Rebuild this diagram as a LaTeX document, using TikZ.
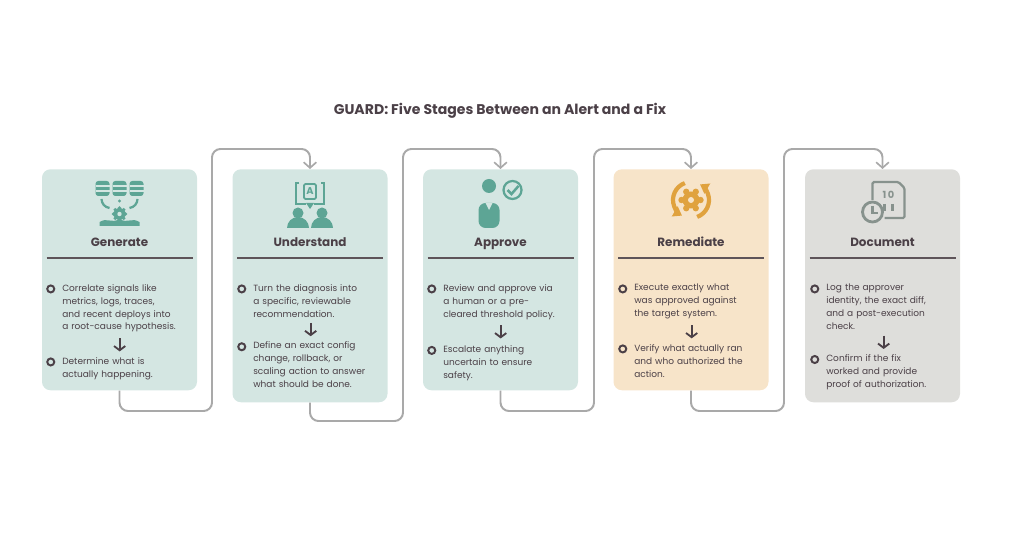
\documentclass[tikz,border=0pt]{standalone}
\usepackage{fontspec}
\setmainfont{Poppins}
\usetikzlibrary{positioning,arrows.meta}
\definecolor{gdtext}{HTML}{4B4047}
\definecolor{gdrule}{HTML}{5E5459}
\definecolor{gdteal}{HTML}{D4E6E2}
\definecolor{gdpeach}{HTML}{F7E4C9}
\definecolor{gdgray}{HTML}{DEDEDB}
\definecolor{gdicon}{HTML}{5DA595}
\definecolor{gdorange}{HTML}{E0A23E}
\definecolor{gdslate}{HTML}{87928D}
\definecolor{gdflow}{HTML}{A9A9A9}
\newcommand{\gdnohyph}{\hyphenpenalty10000\exhyphenpenalty10000\relax}

\tikzset{
  card/.style={rectangle, rounded corners=6pt, minimum width=155*0.025cm, anchor=north, inner sep=0pt},
  head/.style={font=\fontsize{8.5}{10}\selectfont\bfseries, text=gdtext, anchor=base},
  item/.style={font=\fontsize{6.4}{9.2}\selectfont\gdnohyph, text=gdtext, text width=3.2cm, align=left, anchor=north west, inner sep=0pt},
  ring/.style={circle, draw=gdtext, line width=1.4pt, minimum size=5pt, inner sep=0pt},
  down/.style={minimum height=9pt, minimum width=8pt, inner sep=0pt},
  tip/.style={draw=gdtext, line width=1.3pt, -{Straight Barb[length=3pt,width=8pt,line width=1.3pt]}},
  flow/.style={draw=gdflow, line width=1.4pt, rounded corners=6pt, -{Straight Barb[length=4pt,width=9pt,line width=1.2pt]}},
}

\begin{document}
\begin{tikzpicture}[x=0.025cm, y=-0.025cm]
\useasboundingbox (0,0) rectangle (1024,536);

\node[font=\fontsize{10}{12}\selectfont\bfseries, text=gdtext] (title) at (500,111) {GUARD: Five Stages Between an Alert and a Fix};

% cards
\node[card, fill=gdteal,  minimum height=221*0.025cm] (gen) at (119.5,169) {};
\node[card, fill=gdteal,  minimum height=233*0.025cm] (und) at (310,169) {};
\node[card, fill=gdteal,  minimum height=221*0.025cm] (app) at (500.5,169) {};
\node[card, fill=gdpeach, minimum height=221*0.025cm] (rem) at (691,169) {};
\node[card, fill=gdgray,  minimum height=233*0.025cm] (doc) at (882.5,169) {};

% headings and rules
\node[head] (hgen) at (119.5,247) {Generate};
\node[head] (hund) at (310,247) {Understand};
\node[head] (happ) at (500.5,247) {Approve};
\node[head] (hrem) at (691,247) {Remediate};
\node[head] (hdoc) at (882.5,247) {Document};
\foreach \c in {119.5,310,500.5,691,882.5}
  \draw[gdrule, line width=1.6pt] (\c-73,258) -- (\c+73,258);

% Generate
\node[item] (g1) at (62,284) {Correlate signals like\\ metrics, logs, traces,\\ and recent deploys into\\ a root-cause hypothesis.};
\node[down, below=4pt of g1.south west, xshift=41pt] (ga) {};
\node[item, below=4pt of ga.south, anchor=north west, xshift=-41pt] (g2) {Determine what is\\ actually happening.};
\node[ring] (gb1) at ([xshift=-8pt,yshift=-3.5pt]g1.north west) {};
\node[ring] (gb2) at ([xshift=-8pt,yshift=-3.5pt]g2.north west) {};

% Understand
\node[item] (u1) at (253,284) {Turn the diagnosis into\\ a specific, reviewable\\ recommendation.};
\node[down, below=4pt of u1.south west, xshift=41pt] (ua) {};
\node[item, below=4pt of ua.south, anchor=north west, xshift=-41pt] (u2) {Define an exact config\\ change, rollback, or\\ scaling action to answer\\ what should be done.};
\node[ring] (ub1) at ([xshift=-8pt,yshift=-3.5pt]u1.north west) {};
\node[ring] (ub2) at ([xshift=-8pt,yshift=-3.5pt]u2.north west) {};

% Approve
\node[item] (a1) at (443,284) {Review and approve via\\ a human or a pre-\\ cleared threshold policy.};
\node[down, below=4pt of a1.south west, xshift=41pt] (aa) {};
\node[item, below=5pt of aa.south, anchor=north west, xshift=-41pt] (a2) {Escalate anything\\ uncertain to ensure\\ safety.};
\node[ring] (ab1) at ([xshift=-8pt,yshift=-3.5pt]a1.north west) {};
\node[ring] (ab2) at ([xshift=-8pt,yshift=-3.5pt]a2.north west) {};

% Remediate
\node[item] (r1) at (634,284) {Execute exactly what\\ was approved against\\ the target system.};
\node[down, below=4pt of r1.south west, xshift=41pt] (ra) {};
\node[item, below=4pt of ra.south, anchor=north west, xshift=-41pt] (r2) {Verify what actually ran\\ and who authorized the\\ action.};
\node[ring] (rb1) at ([xshift=-8pt,yshift=-3.5pt]r1.north west) {};
\node[ring] (rb2) at ([xshift=-8pt,yshift=-3.5pt]r2.north west) {};

% Document
\node[item] (d1) at (826,284) {Log the approver\\ identity, the exact diff,\\ and a post-execution\\ check.};
\node[down, below=4pt of d1.south west, xshift=41pt] (da) {};
\node[item, below=4pt of da.south, anchor=north west, xshift=-41pt] (d2) {Confirm if the fix\\ worked and provide\\ proof of authorization.};
\node[ring] (db1) at ([xshift=-8pt,yshift=-3.5pt]d1.north west) {};
\node[ring] (db2) at ([xshift=-8pt,yshift=-3.5pt]d2.north west) {};

\foreach \n in {ga,ua,aa,ra,da}
  \draw[tip] (\n.north) -- (\n.south);

% icons
\begin{scope}[shift={(119.5,200)}, y=0.025cm, gdicon]
  \foreach \dx in {-17,0,17} {
    \fill[rounded corners=2pt] (\dx-7,4) rectangle (\dx+7,19);
    \draw[gdteal, line width=0.8pt] (\dx-7,14) -- (\dx+7,14) (\dx-7,9) -- (\dx+7,9);
  }
  \draw[line width=1.6pt] (-18,1) to[bend right=40] (-10,-8);
  \draw[line width=1.6pt] (18,1) to[bend left=40] (10,-8);
  \fill (0,-1) circle (1.6);
  \foreach \a in {0,45,...,315}
    \fill (0,-14) ++(\a:6) circle (1.8);
  \fill (0,-14) circle (6);
  \fill[gdteal] (0,-14) circle (2.2);
  \fill (-20,-22) .. controls (-12,-17) and (-8,-24) .. (0,-19) .. controls (8,-24) and (12,-17) .. (20,-22) -- (20,-26) -- (-20,-26) -- cycle;
\end{scope}
\begin{scope}[shift={(310,200)}, y=0.025cm, gdicon]
  \draw[line width=1.6pt] (-11,17) -- (-14,17) -- (-14,-4) -- (-4,-4) (4,-4) -- (14,-4) -- (14,17) -- (11,17);
  \draw[line width=1.3pt, rounded corners=1pt] (-6,16) rectangle (6,1);
  \node[font=\fontsize{7}{7}\selectfont\bfseries, text=gdicon, inner sep=0pt] (uicon) at (0,8.5) {A};
  \fill (0,-9) -- (-4,-3) -- (4,-3) -- cycle;
  \fill (-12,-13) circle (5.5);
  \fill (12,-13) circle (5.5);
  \fill (-23,-28) arc (180:0:11) -- cycle;
  \fill (1,-28) arc (180:0:11) -- cycle;
\end{scope}
\begin{scope}[shift={(500.5,200)}, y=0.025cm, gdicon]
  \fill (-11.5,14) circle (7);
  \fill[rounded corners=5pt] (-22,-28) -- (-22,-3) -- (-1,-3) -- (-1,-28) -- cycle;
  \fill[gdteal] (-15,-3) -- (-11.5,-10) -- (-8,-3) -- cycle;
  \draw[line width=1.6pt] (12,10) circle (9);
  \draw[line width=1.8pt] (7,10) -- (11,6) -- (18,14);
\end{scope}
\begin{scope}[shift={(691,200)}, y=0.025cm, gdorange]
  \draw[line width=3pt, -{Triangle[length=6pt,width=8pt]}] (110:18) arc (110:240:18);
  \draw[line width=3pt, -{Triangle[length=6pt,width=8pt]}] (-70:18) arc (-70:60:18);
  \foreach \a in {0,60,...,300}
    \fill (\a:9.5) circle (3.2);
  \fill (0,0) circle (8.5);
  \fill[gdpeach] (0,0) circle (3);
\end{scope}
\begin{scope}[shift={(882.5,200)}, y=0.025cm, gdslate]
  \draw[line width=1.6pt, rounded corners=1pt] (-10,0) -- (-10,18) -- (16,18) -- (22,12) -- (22,-18) -- (2,-18);
  \node[font=\fontsize{7}{7}\selectfont\bfseries, text=gdslate, inner sep=0pt] (dicon) at (6,5) {1\,0};
  \draw[line width=1.5pt] (2,-4) -- (2,-11) (10,-4) -- (10,-11);
  \draw[line width=2pt] (-10,-12) circle (10);
  \draw[line width=1.6pt] (-10,-6) -- (-10,-13) -- (-5,-13);
\end{scope}

% connectors
\coordinate (j1) at (212,411);
\coordinate (j2) at (403,421);
\coordinate (j3) at (594,411);
\coordinate (j4) at (784,411);
\draw[flow] (gen.south) |- (j1) |- ([yshift=0.5cm]und.north) -- (und.north);
\draw[flow] (und.south) |- (j2) |- ([yshift=0.5cm]app.north) -- (app.north);
\draw[flow] (app.south) |- (j3) |- ([yshift=0.5cm]rem.north) -- (rem.north);
\draw[flow] (rem.south) |- (j4) |- ([yshift=0.5cm]doc.north) -- (doc.north);
\end{tikzpicture}
\end{document}
